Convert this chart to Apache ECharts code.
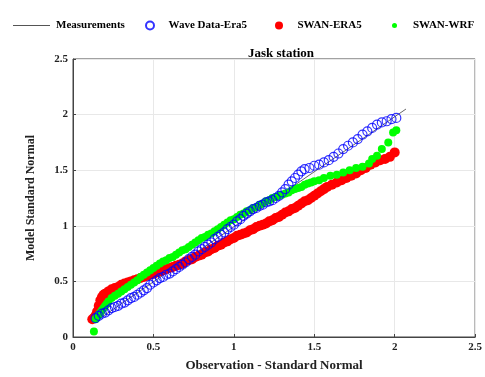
<!DOCTYPE html>
<html><head><meta charset="utf-8">
<script src="https://cdn.jsdelivr.net/npm/echarts@6/dist/echarts.min.js"></script>
<style>html,body{margin:0;padding:0;background:#fff}#c{width:485px;height:377px}</style>
</head><body><div id="c"></div>
<script>
var titleText = 'Jask station';
var xName = 'Observation - Standard Normal';
var yName = 'Model Standard Normal';
var seriesNames = ['Measurements', 'Wave Data-Era5', 'SWAN-ERA5', 'SWAN-WRF'];
var xTicks = [0, 0.5, 1, 1.5, 2, 2.5];
var yTicks = [0, 0.5, 1, 1.5, 2, 2.5];

var measurements = [[0.12, 0.12], [2.07, 2.05]];

var waveEra5 = [
[0.14,0.17],[0.16,0.19],[0.18,0.21],[0.20,0.22],[0.22,0.24],[0.24,0.26],[0.26,0.27],[0.28,0.28],
[0.30,0.30],[0.32,0.31],[0.34,0.33],[0.36,0.35],[0.38,0.36],[0.40,0.38],[0.42,0.40],[0.44,0.42],
[0.46,0.44],[0.48,0.47],[0.50,0.49],[0.52,0.51],[0.54,0.53],[0.56,0.54],[0.58,0.56],[0.60,0.57],
[0.62,0.59],[0.64,0.61],[0.66,0.63],[0.68,0.65],[0.70,0.67],[0.72,0.70],[0.74,0.72],[0.76,0.74],
[0.78,0.77],[0.80,0.79],[0.82,0.81],[0.84,0.83],[0.86,0.85],[0.88,0.88],[0.90,0.90],[0.92,0.92],
[0.94,0.94],[0.96,0.97],[0.98,0.99],[1.00,1.01],[1.02,1.04],[1.04,1.06],[1.06,1.09],[1.08,1.11],
[1.10,1.13],[1.12,1.15],[1.14,1.16],[1.16,1.18],[1.18,1.19],[1.20,1.21],[1.22,1.22],[1.24,1.23],
[1.26,1.25],[1.28,1.27],[1.30,1.30],[1.32,1.33],[1.34,1.37],[1.36,1.40],[1.38,1.43],[1.40,1.46],
[1.42,1.49],[1.44,1.51],[1.47,1.52],[1.50,1.54],[1.53,1.55],[1.56,1.57],[1.59,1.59],[1.62,1.62],
[1.65,1.65],[1.68,1.69],[1.71,1.72],[1.74,1.75],[1.77,1.78],[1.80,1.82],[1.83,1.85],[1.86,1.88],
[1.89,1.91],[1.92,1.93],[1.95,1.94],[1.98,1.96],[2.01,1.97]
];

var swanEra5 = [
[0.12,0.16],[0.13,0.17],[0.14,0.19],[0.15,0.23],[0.16,0.28],[0.17,0.33],[0.18,0.36],[0.19,0.38],
[0.20,0.39],[0.22,0.41],[0.24,0.43],[0.26,0.44],[0.28,0.45],[0.30,0.47],[0.32,0.48],[0.34,0.49],
[0.36,0.50],[0.38,0.51],[0.40,0.52],[0.42,0.53],[0.44,0.54],[0.46,0.55],[0.48,0.56],[0.50,0.57],
[0.52,0.58],[0.54,0.59],[0.56,0.60],[0.58,0.61],[0.60,0.62],[0.62,0.63],[0.64,0.64],[0.66,0.65],
[0.68,0.66],[0.70,0.68],[0.72,0.69],[0.74,0.70],[0.76,0.72],[0.78,0.73],[0.80,0.74],[0.82,0.76],
[0.84,0.77],[0.86,0.79],[0.88,0.80],[0.90,0.82],[0.92,0.83],[0.94,0.85],[0.96,0.86],[0.98,0.88],
[1.00,0.89],[1.02,0.91],[1.04,0.92],[1.06,0.93],[1.08,0.94],[1.10,0.96],[1.12,0.97],[1.14,0.99],
[1.16,1.00],[1.18,1.01],[1.20,1.02],[1.22,1.04],[1.24,1.05],[1.26,1.07],[1.28,1.08],[1.30,1.10],
[1.32,1.12],[1.34,1.13],[1.36,1.15],[1.38,1.16],[1.40,1.18],[1.42,1.20],[1.44,1.22],[1.46,1.23],
[1.48,1.25],[1.50,1.27],[1.52,1.29],[1.54,1.31],[1.56,1.33],[1.58,1.35],[1.61,1.37],[1.64,1.39],
[1.67,1.41],[1.70,1.43],[1.73,1.45],[1.76,1.47],[1.79,1.50],[1.82,1.52],[1.85,1.55],[1.88,1.57],
[1.91,1.59],[1.94,1.60],[1.97,1.62],[2.00,1.66]
];

var swanWrf = [
[0.13,0.05],[0.14,0.16],[0.15,0.18],[0.16,0.20],[0.17,0.22],[0.18,0.24],[0.19,0.26],[0.20,0.28],
[0.21,0.30],[0.22,0.32],[0.24,0.35],[0.26,0.37],[0.28,0.39],[0.30,0.41],[0.32,0.43],[0.34,0.45],
[0.36,0.47],[0.38,0.49],[0.40,0.51],[0.42,0.54],[0.44,0.56],[0.46,0.58],[0.48,0.60],[0.50,0.62],
[0.52,0.64],[0.54,0.66],[0.56,0.68],[0.58,0.69],[0.60,0.71],[0.62,0.72],[0.64,0.74],[0.66,0.76],
[0.68,0.78],[0.70,0.79],[0.72,0.81],[0.74,0.83],[0.76,0.85],[0.78,0.87],[0.80,0.89],[0.82,0.90],
[0.84,0.92],[0.86,0.93],[0.88,0.95],[0.90,0.97],[0.92,0.99],[0.94,1.01],[0.96,1.03],[0.98,1.05],
[1.00,1.06],[1.02,1.08],[1.04,1.10],[1.06,1.11],[1.08,1.13],[1.10,1.14],[1.12,1.16],[1.14,1.17],
[1.16,1.19],[1.18,1.20],[1.20,1.22],[1.22,1.23],[1.24,1.25],[1.26,1.26],[1.28,1.27],[1.30,1.28],
[1.32,1.29],[1.34,1.30],[1.36,1.32],[1.38,1.33],[1.40,1.34],[1.42,1.35],[1.44,1.37],[1.46,1.38],
[1.48,1.39],[1.50,1.40],[1.53,1.41],[1.56,1.43],[1.60,1.45],[1.64,1.46],[1.68,1.48],[1.72,1.50],
[1.76,1.52],[1.80,1.53],[1.84,1.56],[1.86,1.60],[1.89,1.63],[1.92,1.69],[1.96,1.75],[1.99,1.84],
[2.01,1.86]
];

var serif = '"Liberation Serif","DejaVu Serif",serif';
var chart = echarts.init(document.getElementById('c'));
var legTxt = {fontFamily: serif, fontWeight: 'bold', fontSize: 11, color: '#000', padding: [0, 0, 0, 8]};
chart.setOption({
  animation: false,
  title: {text: titleText, left: 276, top: 42, textAlign: 'center',
    textStyle: {fontFamily: serif, fontWeight: 'bold', fontSize: 13, color: '#000'}},
  legend: [
    {data: [{name: seriesNames[0], icon: 'rect'}], left: 8, top: 15, itemWidth: 37, itemHeight: 1,
      itemStyle: {color: '#555'}, textStyle: {fontFamily: serif, fontWeight: 'bold', fontSize: 11, color: '#000', padding: [0, 0, 0, 1]}},
    {data: [seriesNames[1]], left: 140, top: 15, itemWidth: 11, itemHeight: 8, textStyle: legTxt},
    {data: [seriesNames[2]], left: 270, top: 15, itemWidth: 11, itemHeight: 8, textStyle: legTxt},
    {data: [seriesNames[3]], left: 387, top: 15, itemWidth: 11, itemHeight: 5, textStyle: legTxt}
  ],
  grid: {left: 73, right: 5, top: 59, bottom: 34, show: true, borderColor: '#444', borderWidth: 1},
  xAxis: {type: 'value', min: 0, max: 2.5, interval: 0.5,
    name: xName, nameLocation: 'middle', nameGap: 22,
    nameTextStyle: {fontFamily: serif, fontWeight: 'bold', fontSize: 13, color: '#222'},
    axisLine: {lineStyle: {color: '#444'}},
    axisTick: {inside: true, length: 3, lineStyle: {color: '#444'}},
    axisLabel: {fontFamily: serif, fontWeight: 'bold', fontSize: 11, color: '#222', margin: 5,
      formatter: function (v) { return xTicks.indexOf(v) >= 0 ? String(v) : ''; }},
    splitLine: {lineStyle: {color: '#e8e8e8'}}},
  yAxis: {type: 'value', min: 0, max: 2.5, interval: 0.5,
    name: yName, nameLocation: 'middle', nameGap: 36,
    nameTextStyle: {fontFamily: serif, fontWeight: 'bold', fontSize: 12, color: '#222'},
    axisLine: {show: true, lineStyle: {color: '#444'}},
    axisTick: {show: true, inside: true, length: 3, lineStyle: {color: '#444'}},
    axisLabel: {fontFamily: serif, fontWeight: 'bold', fontSize: 11, color: '#222', margin: 5,
      formatter: function (v) { return yTicks.indexOf(v) >= 0 ? String(v) : ''; }},
    splitLine: {lineStyle: {color: '#e8e8e8'}}},
  series: [
    {name: seriesNames[0], type: 'line', data: measurements, showSymbol: false, symbol: 'none',
      lineStyle: {color: '#666', width: 1}, itemStyle: {color: '#555'}, z: 1},
    {name: seriesNames[1], type: 'scatter', data: waveEra5, symbol: 'circle', symbolSize: 9,
      itemStyle: {color: 'rgba(255,255,255,0)', borderColor: '#0000ff', borderWidth: 1.2}, z: 5},
    {name: seriesNames[2], type: 'scatter', data: swanEra5, symbol: 'circle', symbolSize: 10,
      itemStyle: {color: '#ff0000', opacity: 1}, z: 3},
    {name: seriesNames[3], type: 'scatter', data: swanWrf, symbol: 'circle', symbolSize: 8,
      itemStyle: {color: '#00ff00', opacity: 1}, z: 4}
  ]
});
</script></body></html>
